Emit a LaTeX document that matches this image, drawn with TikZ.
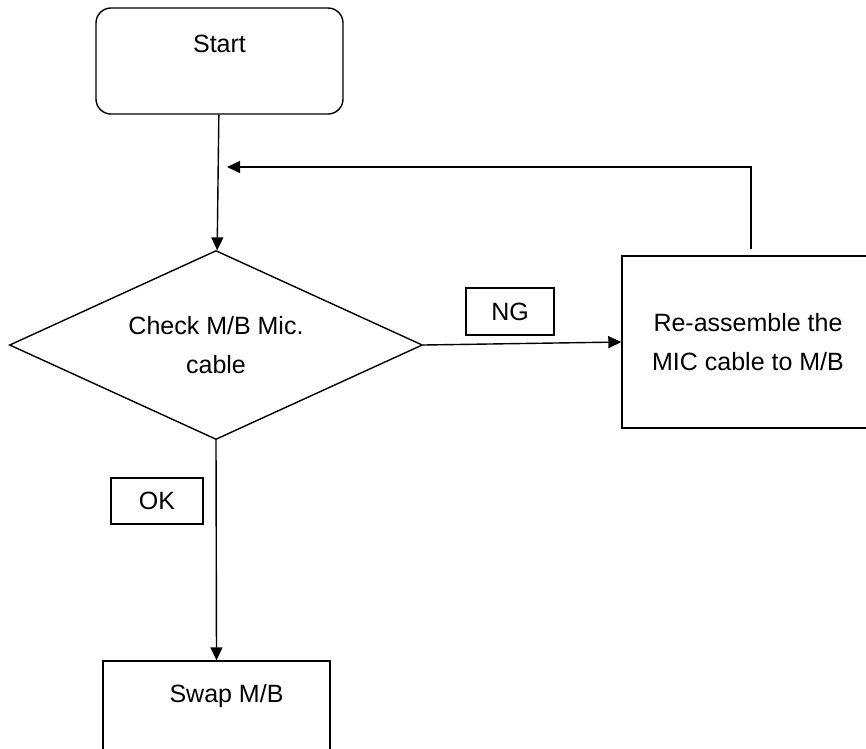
\documentclass[tikz,border=0pt]{standalone}
\usepackage{fontspec}
\setmainfont{Liberation Sans}
\usetikzlibrary{shapes.geometric, arrows.meta, positioning}
\tikzstyle{every node}=[font=\fontsize{25}{39}\selectfont]
\tikzstyle{block}=[draw,fill=white,rectangle,inner sep=0pt,align=center]
\tikzstyle{decision}=[draw,fill=white,diamond,aspect=2.2,inner sep=0pt,align=center]

\begin{document}
\begin{tikzpicture}[x=1pt,y=-1pt,line width=1.4pt,>={Triangle[length=13pt,width=12pt]}]
    \useasboundingbox (0,0) rectangle (866,748);
    \node[block, rounded corners=15pt, minimum width=247pt, minimum height=106pt, text height=18pt, text depth=36pt] (start) at (219.5,61) {Start};
    \node[decision, minimum width=413pt, minimum height=189pt] (check) at (216,345) {Check M/B Mic.\\cable};
    \node[block, minimum width=252pt, minimum height=172pt] (fix) at (748,342) {Re-assemble the\\MIC cable to M/B};
    \node[block, minimum width=227pt, minimum height=120pt, text height=18pt, text depth=56pt] (swap) at (216.5,721) {\hspace*{20pt}Swap M/B};
    \node[block, minimum width=88pt, minimum height=47pt] (ng) at (510,311.5) {NG};
    \node[block, minimum width=92pt, minimum height=46pt] (ok) at (157,501) {OK};
    \coordinate (loop) at (227,167);
    \draw[->] (start) -- (check);
    \draw[->] (check.east) -- (fix.west);
    \draw[->] ([xshift=3pt,yshift=6pt]fix.north) |- (loop);
    \draw[->] (check.south) -- (swap.north);
\end{tikzpicture}
\end{document}
